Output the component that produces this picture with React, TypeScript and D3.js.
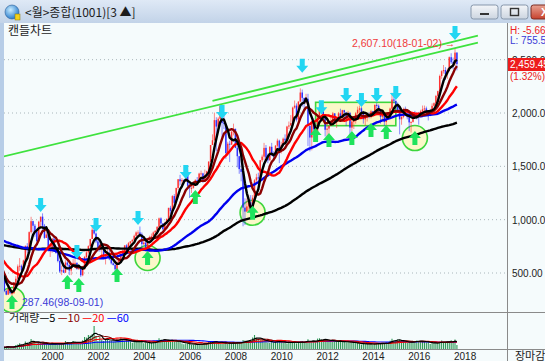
import React from 'react';
import * as d3 from 'd3';

// ---------- DATA ----------
// monthly closes before the visible window (1988-04 .. 1998-03), used for moving averages
const preCloses = [
  690, 720, 700, 690, 700, 710, 750, 820, 907,
  890, 920, 1003, 960, 940, 900, 920, 940, 930, 920, 900, 909,
  800, 780, 750, 730, 750, 720, 700, 630, 580, 690, 680, 696,
  650, 680, 670, 660, 630, 610, 690, 680, 710, 680, 660, 610,
  620, 620, 600, 560, 560, 540, 520, 480, 530, 560, 640, 678,
  650, 640, 720, 730, 740, 770, 740, 730, 710, 760, 810, 866,
  920, 880, 870, 900, 910, 930, 940, 950, 1000, 1070, 1110, 1027,
  930, 880, 930, 890, 900, 900, 950, 940, 960, 930, 960, 882,
  880, 870, 880, 960, 960, 900, 830, 820, 800, 800, 750, 651,
  680, 670, 660, 700, 740, 750, 730, 690, 650, 470, 400, 376,
  567, 523, 481,
];

// visible monthly bars 1998-04 .. 2018-02
const firstMonth = '1998-04';
const closes = [
  434, 332, 297, 352, 311, 311, 404, 446, 562,
  568, 525, 618, 752, 725, 883, 986, 943, 887, 800, 981, 1028,
  943, 829, 861, 725, 731, 822, 705, 688, 613, 514, 526, 504,
  598, 577, 523, 563, 595, 595, 541, 545, 479, 535, 650, 693,
  752, 819, 905, 870, 796, 742, 720, 733, 646, 654, 685, 628,
  591, 575, 535, 600, 634, 669, 710, 759, 697, 779, 796, 810,
  848, 880, 880, 862, 771, 785, 735, 810, 835, 845, 880, 896,
  932, 1012, 965, 911, 970, 1008, 1111, 1083, 1221, 1158, 1297, 1379,
  1360, 1371, 1359, 1419, 1317, 1295, 1298, 1352, 1371, 1364, 1432, 1434,
  1360, 1417, 1453, 1543, 1700, 1744, 1933, 1873, 1946, 2064, 1906, 1897,
  1625, 1712, 1704, 1825, 1852, 1674, 1595, 1474, 1448, 1113, 1076, 1124,
  1162, 1063, 1206, 1369, 1396, 1390, 1557, 1591, 1673, 1581, 1556, 1683,
  1602, 1595, 1693, 1741, 1641, 1698, 1759, 1743, 1873, 1883, 1905, 2051,
  2069, 1939, 2107, 2192, 2142, 2101, 2133, 1880, 1770, 1909, 1847, 1826,
  1956, 2031, 2014, 1982, 1843, 1854, 1881, 1906, 1996, 1912, 1933, 1997,
  1961, 2026, 2005, 1964, 2001, 1863, 1920, 1926, 1997, 2030, 2044, 2011,
  1941, 1980, 1985, 1961, 2017, 2002, 2076, 2068, 2020, 1964, 1981, 1916,
  1949, 1985, 2041, 2127, 2115, 2074, 2030, 1941, 1963, 2029, 1991, 1961,
  1912, 1917, 1996, 1994, 1983, 1970, 2016, 2034, 2043, 2008, 1983, 2026,
  2067, 2092, 2160, 2205, 2347, 2392, 2403, 2363, 2394, 2523, 2476, 2467,
  2566, 2459.45,
];
const highs = [
  500, 440, 340, 370, 360, 330, 410, 470, 580,
  640, 580, 625, 760, 780, 890, 1027, 990, 960, 890, 990, 1028,
  1059, 960, 930, 890, 760, 830, 840, 750, 700, 620, 570, 560,
  620, 630, 580, 580, 630, 630, 600, 580, 550, 540, 660, 720,
  760, 820, 943, 937, 880, 810, 790, 760, 740, 680, 730, 720,
  650, 610, 590, 620, 640, 690, 720, 760, 770, 790, 800, 820,
  860, 890, 900, 936, 880, 810, 790, 820, 850, 870, 890, 900,
  940, 1020, 1022, 960, 980, 1010, 1110, 1130, 1230, 1240, 1300, 1380,
  1420, 1390, 1380, 1460, 1464, 1340, 1330, 1360, 1380, 1400, 1440, 1460,
  1440, 1470, 1460, 1550, 1700, 1800, 2004, 1960, 1960, 2085, 2050, 1990,
  1900, 1730, 1740, 1830, 1900, 1850, 1690, 1600, 1570, 1440, 1200, 1200,
  1230, 1230, 1230, 1380, 1430, 1440, 1560, 1610, 1720, 1700, 1620, 1690,
  1720, 1640, 1700, 1760, 1750, 1730, 1770, 1800, 1880, 1920, 1980, 2060,
  2117, 2090, 2110, 2231, 2220, 2140, 2180, 2180, 1880, 1930, 1950, 1900,
  1960, 2040, 2057, 2050, 1980, 1880, 1880, 1960, 2010, 2000, 1940, 2010,
  2040, 2030, 2030, 2010, 2020, 2010, 1930, 1940, 2010, 2060, 2070, 2060,
  2020, 1980, 1990, 2010, 2030, 2020, 2080, 2093, 2080, 2030, 1990, 2000,
  1960, 1990, 2050, 2190, 2150, 2110, 2100, 2050, 1990, 2050, 2060, 2010,
  1970, 1920, 2000, 2020, 2000, 2010, 2030, 2070, 2070, 2060, 2020, 2040,
  2090, 2100, 2170, 2210, 2360, 2400, 2450, 2430, 2420, 2530, 2560, 2520,
  2607.1, 2570,
];
const lows = [
  420, 320, 292, 295, 300, 287.46, 305, 400, 440,
  520, 500, 515, 610, 690, 720, 870, 880, 840, 790, 790, 930,
  900, 820, 830, 700, 650, 690, 700, 680, 600, 500, 480, 500,
  500, 560, 480, 480, 560, 570, 530, 530, 463, 470, 530, 630,
  680, 740, 820, 860, 780, 700, 700, 660, 640, 580, 650, 620,
  580, 570, 515, 530, 590, 620, 660, 690, 680, 700, 760, 750,
  800, 840, 840, 860, 730, 760, 720, 720, 800, 820, 840, 850,
  880, 920, 950, 900, 900, 960, 1000, 1050, 1080, 1130, 1160, 1280,
  1320, 1320, 1330, 1360, 1300, 1203, 1250, 1290, 1330, 1320, 1350, 1400,
  1345, 1360, 1370, 1450, 1540, 1700, 1740, 1638, 1840, 1940, 1770, 1850,
  1570, 1600, 1540, 1700, 1790, 1670, 1490, 1430, 1360, 938, 950, 1070,
  1070, 1050, 1020, 1190, 1340, 1350, 1370, 1540, 1560, 1560, 1530, 1560,
  1600, 1550, 1590, 1680, 1530, 1620, 1690, 1720, 1740, 1850, 1880, 1900,
  2040, 1920, 1880, 2100, 2060, 2030, 2080, 1690, 1640, 1650, 1800, 1750,
  1820, 1940, 1990, 1960, 1780, 1780, 1760, 1880, 1890, 1900, 1860, 1930,
  1950, 1930, 1950, 1880, 1930, 1770, 1830, 1850, 1900, 1980, 1980, 1960,
  1900, 1880, 1920, 1950, 1950, 1980, 1990, 2040, 2010, 1900, 1930, 1880,
  1880, 1940, 1960, 2030, 2090, 2030, 2020, 1800, 1890, 1950, 1970, 1940,
  1830, 1817, 1910, 1970, 1940, 1890, 1960, 2010, 1970, 2000, 1930, 1970,
  2010, 2060, 2080, 2120, 2200, 2320, 2370, 2310, 2320, 2390, 2460, 2410,
  2440, 2400,
];
const volumes = [
  1700, 1900, 2100, 2600, 1900, 1500, 2600, 3900, 4600,
  5800, 3800, 4800, 7600, 6300, 7200, 9900, 7300, 6200, 5600, 6600, 6400,
  5600, 5200, 5000, 4400, 4700, 6200, 5200, 5100, 4800, 5200, 6100, 4900,
  8000, 6500, 5400, 6600, 8100, 7500, 5800, 5800, 6800, 8700, 12000, 11400,
  14000, 13500, 15000, 23000, 13000, 8000, 12000, 9600, 8100, 9500, 11000, 8200,
  8300, 7600, 8400, 9600, 10200, 11000, 9000, 8500, 8400, 8300, 7600, 6300,
  7700, 7000, 8100, 7600, 7600, 5800, 6400, 6000, 6100, 5900, 6900, 6600,
  9100, 10800, 9300, 8800, 8800, 8400, 9200, 7800, 8700, 7200, 7200, 7800,
  8000, 5500, 4800, 5400, 6000, 5000, 4200, 4400, 4300, 4700, 5200, 4900,
  5100, 5600, 5800, 7500, 7200, 6800, 8100, 6800, 5400, 6700, 6600, 5400,
  6300, 5000, 6000, 6000, 6800, 5600, 6000, 6300, 6400, 9000, 8400, 8200,
  8600, 9100, 11500, 14000, 11000, 9000, 8800, 9500, 8600, 8100, 6500, 6100,
  8000, 6600, 6900, 8600, 7500, 6800, 6200, 6400, 5600, 7400, 7200, 6100,
  7300, 5600, 6800, 7700, 7700, 6100, 7800, 9800, 7700, 8100, 7100, 6800,
  10400, 10700, 9600, 8100, 9400, 9000, 8500, 7300, 8800, 7000, 7200, 7700,
  8400, 6700, 7200, 6700, 7600, 6700, 6100, 5900, 5900, 6100, 5000, 4500,
  5600, 5300, 5000, 4700, 5500, 4500, 5400, 6100, 5800, 5300, 5300, 5600,
  6600, 6200, 8300, 10200, 8500, 8500, 9400, 9200, 7400, 7400, 7000, 6100,
  7000, 7100, 7000, 8100, 8400, 8100, 7600, 7200, 7400, 6500, 7200, 5100,
  5700, 5900, 6600, 5700, 7400, 8400, 6800, 6700, 6200, 7500, 8700, 7300,
  9600, 4000,
];

const maPeriods = [120, 60, 20, 10, 5];
const maColors = ['#000000', '#0000ee', '#ff0000', '#8b0000', '#000000'];
const volMaPeriods = [60, 20, 10, 5];
const volMaColors = ['#0000ff', '#ff0000', '#8b0000', '#000000'];
const priceTicks = [500, 1000, 1500, 2000, 2500];
const yearTicks = [2000, 2002, 2004, 2006, 2008, 2010, 2012, 2014, 2016, 2018];

// annotations (month, price)
const peakArrows: [string, number][] = [
  ['1999-12', 1137], ['2001-07', 697], ['2002-05', 950], ['2004-03', 1016],
  ['2006-04', 1447], ['2007-11', 2009], ['2011-05', 2442], ['2012-03', 2053],
  ['2013-04', 2169], ['2013-12', 2122], ['2014-08', 2169], ['2015-06', 2187],
  ['2018-01', 2750],
];
const troughArrows: [string, number][] = [
  ['1998-09', 228], ['2001-02', 415], ['2001-08', 387], ['2003-04', 481],
  ['2004-08', 641], ['2006-09', 1212], ['2009-03', 1065], ['2011-12', 1793],
  ['2012-07', 1746], ['2013-07', 1765], ['2014-05', 1840], ['2015-01', 1821],
  ['2016-04', 1765],
];
const circleMarks: [string, number][] = [
  ['1998-09', 247], ['2004-08', 641], ['2009-03', 1065], ['2016-04', 1765],
];
const boxMark = { from: '2011-12', to: '2015-06', top: 2100, bottom: 1881 };
const trendLines: [string, number, string, number][] = [
  ['1998-04', 1590, '2019-01', 2660],
  ['2007-06', 2113, '2019-01', 2725],
];
const lowLabel = '287.46(98-09-01)';
const highLabel = '2,607.10(18-01-02) \u2192';
const lastPrice = 2459.45;
const lastChange = '(1.32%)';

// ---------- HELPERS ----------
const mIdx = (s: string) => {
  const [yy, mm] = s.split('-').map(Number);
  return (yy - 1998) * 12 + (mm - 1);
};

const downArrow = (cx: number, cy: number) =>
  `M${cx - 2.5},${cy - 7} L${cx + 2.5},${cy - 7} L${cx + 2.5},${cy} L${cx + 6},${cy} L${cx},${cy + 7} L${cx - 6},${cy} L${cx - 2.5},${cy} Z`;
const upArrow = (cx: number, cy: number) =>
  `M${cx - 2.5},${cy + 7} L${cx + 2.5},${cy + 7} L${cx + 2.5},${cy} L${cx + 6},${cy} L${cx},${cy - 7} L${cx - 6},${cy} L${cx - 2.5},${cy} Z`;

const NUM = "'Liberation Sans', Arial, sans-serif";
const KR = "'Noto Sans CJK KR', 'Noto Sans', sans-serif";

export default function App() {
  const W = 545, H = 361;
  const plotL = 4, plotR = 507, priceTop = 23, priceBot = 312, volBot = 349;
  const first = mIdx(firstMonth);

  const x = d3.scaleLinear().domain([mIdx('1998-09'), mIdx('2018-01')]).range([12, 455]);
  const y = d3.scaleLinear().domain([500, 2000]).range([273, 113]);
  const yv = d3.scaleLinear().domain([0, 37000]).range([volBot, priceBot]);

  const all = [...preCloses, ...closes];
  const off = preCloses.length;
  const line = d3.line<[number, number]>();

  const maPaths = maPeriods.map((n) => {
    const pts: [number, number][] = [];
    for (let j = off - 2; j < all.length; j++) {
      if (j - n + 1 < 0) continue;
      const v = d3.mean(all.slice(j - n + 1, j + 1)) as number;
      pts.push([x(j - off + first), y(v)]);
    }
    return line(pts) || '';
  });

  const volMaPaths = volMaPeriods.map((n) => {
    const pts: [number, number][] = volumes.map((_, k) => {
      const v = d3.mean(volumes.slice(Math.max(0, k - n + 1), k + 1)) as number;
      return [x(k + first), yv(v)];
    });
    return line(pts) || '';
  });

  const candles = closes.map((c, k) => {
    const o = k === 0 ? preCloses[preCloses.length - 1] : closes[k - 1];
    const up = c >= o;
    const cx = x(k + first);
    const hi = Math.max(highs[k], o, c);
    const lo = Math.min(lows[k], o, c);
    return { cx, up, yo: y(o), yc: y(c), yh: y(hi), yl: y(lo) };
  });

  const fmt = d3.format(',.2f');

  return (
    <svg width={W} height={H} style={{ position: 'absolute', left: 0, top: 0 }}>
      <defs>
        <linearGradient id="tb" x1="0" y1="0" x2="0" y2="1">
          <stop offset="0" stopColor="#dfe9f6" />
          <stop offset="1" stopColor="#c2d3e8" />
        </linearGradient>
        <linearGradient id="btn" x1="0" y1="0" x2="0" y2="1">
          <stop offset="0" stopColor="#f4f6f9" />
          <stop offset="1" stopColor="#ccd5e0" />
        </linearGradient>
        <linearGradient id="btnx" x1="0" y1="0" x2="0" y2="1">
          <stop offset="0" stopColor="#e8a393" />
          <stop offset="1" stopColor="#c7412d" />
        </linearGradient>
        <radialGradient id="ico" cx="0.4" cy="0.35" r="0.7">
          <stop offset="0" stopColor="#c8ecff" />
          <stop offset="1" stopColor="#1d74c9" />
        </radialGradient>
        <clipPath id="pc"><rect x={plotL} y={priceTop} width={plotR - plotL} height={priceBot - priceTop} /></clipPath>
        <clipPath id="vc"><rect x={plotL} y={priceBot} width={plotR - plotL} height={volBot - priceBot} /></clipPath>
      </defs>

      {/* window frame */}
      <rect x={0} y={0} width={W} height={H} fill="#f5fbfc" />
      <rect x={0} y={0} width={W} height={priceTop} fill="url(#tb)" />
      <rect x={0} y={priceTop} width={plotL} height={H - priceTop} fill="#b7cde7" />
      <circle cx={12} cy={12} r={7} fill="url(#ico)" stroke="#2a5d95" strokeWidth={0.6} />
      <rect x={15} y={14} width={5} height={6} fill="#f3d21c" stroke="#8a7400" strokeWidth={0.5} />
      <text x={25} y={17} fontFamily={KR} fontSize={12} fill="#1c1c1c">{'<월>종합(1001)[3  ▲]'}</text>
      <rect x={471} y={5} width={27} height={14} rx={2.5} fill="url(#btn)" stroke="#8797ab" />
      <rect x={480} y={13} width={9} height={2} fill="#333" />
      <rect x={501} y={5} width={27} height={14} rx={2.5} fill="url(#btn)" stroke="#8797ab" />
      <rect x={510.5} y={8.5} width={8} height={7} fill="none" stroke="#333" strokeWidth={1.4} />
      <rect x={531} y={5} width={30} height={14} rx={2.5} fill="url(#btnx)" stroke="#7a2a20" />
      <text x={541} y={16} fontFamily={NUM} fontSize={11} fontWeight="bold" fill="#fff">X</text>

      {/* grid */}
      {priceTicks.map((t) => (
        <line key={t} x1={plotL} x2={plotR} y1={y(t)} y2={y(t)} stroke="#a9b6bb" strokeDasharray="1,3" />
      ))}

      <g clipPath="url(#pc)">
        {/* annotation fills */}
        <rect x={x(mIdx(boxMark.from))} y={y(boxMark.top)} width={x(mIdx(boxMark.to)) - x(mIdx(boxMark.from))}
          height={y(boxMark.bottom) - y(boxMark.top)} fill="#fbf8c8" stroke="#3dd63d" strokeWidth={1.6} />
        {circleMarks.map(([m, v], i) => (
          <circle key={i} cx={x(mIdx(m))} cy={y(v)} r={12.5} fill="#fbf8c8" stroke="#3dd63d" strokeWidth={1.6} />
        ))}

        {/* candles */}
        {candles.map((c, k) => (
          <g key={k}>
            <line x1={c.cx} x2={c.cx} y1={c.yh} y2={c.yl} stroke={c.up ? '#ff3030' : '#2b2bff'} strokeOpacity={0.55} strokeWidth={1} />
            <rect x={c.cx - 0.75} width={1.5} y={Math.min(c.yo, c.yc)} height={Math.max(1, Math.abs(c.yo - c.yc))}
              fill={c.up ? '#ff2020' : '#1c1cff'} fillOpacity={0.85} />
          </g>
        ))}

        {/* moving averages */}
        {maPaths.map((d, i) => (
          <path key={i} d={d} fill="none" stroke={maColors[i]} strokeWidth={2.4} strokeLinejoin="round" />
        ))}

        {/* trend lines */}
        {trendLines.map(([m1, v1, m2, v2], i) => (
          <line key={i} x1={x(mIdx(m1))} y1={y(v1)} x2={x(mIdx(m2))} y2={y(v2)} stroke="#3ee23e" strokeWidth={1.8} />
        ))}

        {/* labels */}
        <text x={22} y={306} fontFamily={NUM} fontSize={10.5} fill="#3a3ad6">{lowLabel}</text>
        <text x={352} y={47} fontFamily={NUM} fontSize={10.5} fill="#f03a3a">{highLabel}</text>

        {/* arrows */}
        {peakArrows.map(([m, v], i) => (
          <path key={i} d={downArrow(x(mIdx(m)), y(v))} fill="#22d6f2" />
        ))}
        {troughArrows.map(([m, v], i) => (
          <path key={i} d={upArrow(x(mIdx(m)), y(v))} fill="#1fe35c" />
        ))}
      </g>

      <text x={8} y={35} fontFamily={KR} fontSize={12} fill="#1c1c1c">캔들차트</text>

      {/* volume pane */}
      <g clipPath="url(#vc)">
        {volumes.map((v, k) => (
          <line key={k} x1={x(k + first)} x2={x(k + first)} y1={yv(0)} y2={yv(v)} stroke="#2f9a58" strokeWidth={1.1} />
        ))}
        {volMaPaths.map((d, i) => (
          <path key={i} d={d} fill="none" stroke={volMaColors[i]} strokeWidth={1.1} />
        ))}
      </g>
      <text x={9} y={322} fontFamily={KR} fontSize={11} fill="#1c1c1c">
        거래량<tspan fill="#000">—5 </tspan><tspan fill="#8b0000">—10 </tspan><tspan fill="#ff0000">—20 </tspan><tspan fill="#0000ff">—60</tspan>
      </text>

      {/* frame lines */}
      <line x1={plotR + 0.5} x2={plotR + 0.5} y1={priceTop} y2={H} stroke="#8a8a8a" />
      <line x1={plotL} x2={W} y1={priceBot + 0.5} y2={priceBot + 0.5} stroke="#8a8a8a" />
      <line x1={plotL} x2={W} y1={volBot + 0.5} y2={volBot + 0.5} stroke="#8a8a8a" />

      {/* right axis */}
      {priceTicks.map((t) => (
        <text key={t} x={512} y={y(t) + 4} fontFamily={NUM} fontSize={10} fill="#222">{fmt(t)}</text>
      ))}
      <text x={510} y={34} fontFamily={NUM} fontSize={10} fill="#ee2222">H: -5.66</text>
      <text x={510} y={44} fontFamily={NUM} fontSize={10} fill="#3a3ad6">L: 755.5</text>
      <rect x={508} y={y(lastPrice) - 6} width={40} height={13} fill="#ee1c1c" />
      <text x={510} y={y(lastPrice) + 4} fontFamily={NUM} fontSize={10} fill="#fff">{fmt(lastPrice)}</text>
      <text x={510} y={80} fontFamily={NUM} fontSize={10} fill="#ee2222">{lastChange}</text>

      {/* x axis */}
      {yearTicks.map((yr) => (
        <text key={yr} x={x(mIdx(`${yr}-01`)) - 1} y={360} fontFamily={NUM} fontSize={10} fill="#222">{yr}</text>
      ))}
      <text x={515} y={360} fontFamily={KR} fontSize={11} fill="#222">장마감</text>
    </svg>
  );
}
